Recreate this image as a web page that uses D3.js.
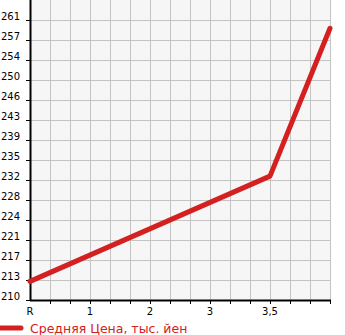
<!DOCTYPE html>
<html>
<head>
<meta charset="utf-8">
<script src="https://cdn.jsdelivr.net/npm/d3@7"></script>
<style>
  body { margin: 0; background: #fff; }
  text { font-family: "DejaVu Sans", sans-serif; }
</style>
</head>
<body>
<div id="chart"></div>
<script>
// x categories (last slot has no label)
const categories = ["R", "1", "2", "3", "3,5", ""];

// y tick labels as printed on the chart
const yTickLabels = ["210", "213", "217", "221", "224", "228", "232", "235", "239", "243", "246", "250", "254", "257", "261"];
const yBase = 209.8;
const yStep = 3.65;

// series: category index + value (тыс. йен)
const seriesIndex = [0, 4, 5];
const seriesValues = [213.2, 232.4, 259.4];

const legendLabel = "Средняя Цена, тыс. йен";

const width = 345;
const height = 335;
const LEFT = 31;
const RIGHT = 331;
const TOP = 0;
const BOTTOM = 300;

const RED = "#d42020";
const GRID = "#c4c4c4";

const svg = d3.select("#chart")
  .append("svg")
  .attr("width", width)
  .attr("height", height);

const x = d3.scaleLinear()
  .domain([0, categories.length - 1])
  .range([LEFT - 1, RIGHT - 1]);

const y = d3.scaleLinear()
  .domain([yBase, yBase + yStep * 15])
  .range([BOTTOM, TOP]);

// plot background
svg.append("rect")
  .attr("x", LEFT)
  .attr("y", TOP)
  .attr("width", RIGHT - LEFT)
  .attr("height", BOTTOM - TOP)
  .attr("fill", "#f6f6f6");

// grid: 3 minor steps per category horizontally
const xGrid = d3.range(0, (categories.length - 1) * 3 + 1).map(i => i / 3);
svg.append("g")
  .selectAll("line")
  .data(xGrid.slice(1))
  .enter()
  .append("line")
  .attr("x1", d => Math.round(x(d)) + 0.5)
  .attr("x2", d => Math.round(x(d)) + 0.5)
  .attr("y1", TOP)
  .attr("y2", BOTTOM)
  .attr("stroke", GRID)
  .attr("stroke-width", 1);

const yTicks = yTickLabels.map((t, i) => ({ label: t, v: yBase + yStep * i }));
svg.append("g")
  .selectAll("line")
  .data(yTicks.slice(1))
  .enter()
  .append("line")
  .attr("x1", LEFT)
  .attr("x2", RIGHT)
  .attr("y1", d => Math.round(y(d.v)) + 0.5)
  .attr("y2", d => Math.round(y(d.v)) + 0.5)
  .attr("stroke", GRID)
  .attr("stroke-width", 1);

// y axis line + ticks + labels
svg.append("line")
  .attr("x1", LEFT - 0.5).attr("x2", LEFT - 0.5)
  .attr("y1", TOP).attr("y2", BOTTOM + 1)
  .attr("stroke", "#000").attr("stroke-width", 2);

svg.append("g")
  .selectAll("line")
  .data(yTicks)
  .enter()
  .append("line")
  .attr("x1", LEFT - 5)
  .attr("x2", LEFT)
  .attr("y1", d => Math.round(y(d.v)) + 0.5)
  .attr("y2", d => Math.round(y(d.v)) + 0.5)
  .attr("stroke", "#000");

svg.append("g")
  .selectAll("text")
  .data(yTicks)
  .enter()
  .append("text")
  .attr("x", 20)
  .attr("y", d => Math.round(y(d.v)))
  .attr("text-anchor", "end")
  .style("font-size", "10px")
  .style("fill", "#000")
  .text(d => d.label);

// x axis line + ticks + labels
svg.append("line")
  .attr("x1", LEFT - 1).attr("x2", RIGHT)
  .attr("y1", BOTTOM + 0.5).attr("y2", BOTTOM + 0.5)
  .attr("stroke", "#000").attr("stroke-width", 2);

svg.append("g")
  .selectAll("line")
  .data(xGrid.slice(1))
  .enter()
  .append("line")
  .attr("x1", d => Math.round(x(d)) + 0.5)
  .attr("x2", d => Math.round(x(d)) + 0.5)
  .attr("y1", BOTTOM)
  .attr("y2", BOTTOM + 4)
  .attr("stroke", "#000");

svg.append("g")
  .selectAll("text")
  .data(categories)
  .enter()
  .append("text")
  .attr("x", (d, i) => x(i))
  .attr("y", 315)
  .attr("text-anchor", "middle")
  .style("font-size", "10px")
  .style("fill", "#000")
  .text(d => d);

// series line
const points = seriesIndex.map((c, i) => [x(c), y(seriesValues[i])]);
svg.append("path")
  .attr("d", d3.line()(points))
  .attr("fill", "none")
  .attr("stroke", RED)
  .attr("stroke-width", 5)
  .attr("stroke-linecap", "round")
  .attr("stroke-linejoin", "round");

// legend
svg.append("line")
  .attr("x1", -2).attr("x2", 21)
  .attr("y1", 328).attr("y2", 328)
  .attr("stroke", RED)
  .attr("stroke-width", 5)
  .attr("stroke-linecap", "round");

svg.append("text")
  .attr("x", 30)
  .attr("y", 333)
  .style("font-size", "12.5px")
  .style("fill", RED)
  .text(legendLabel);
</script>
</body>
</html>
